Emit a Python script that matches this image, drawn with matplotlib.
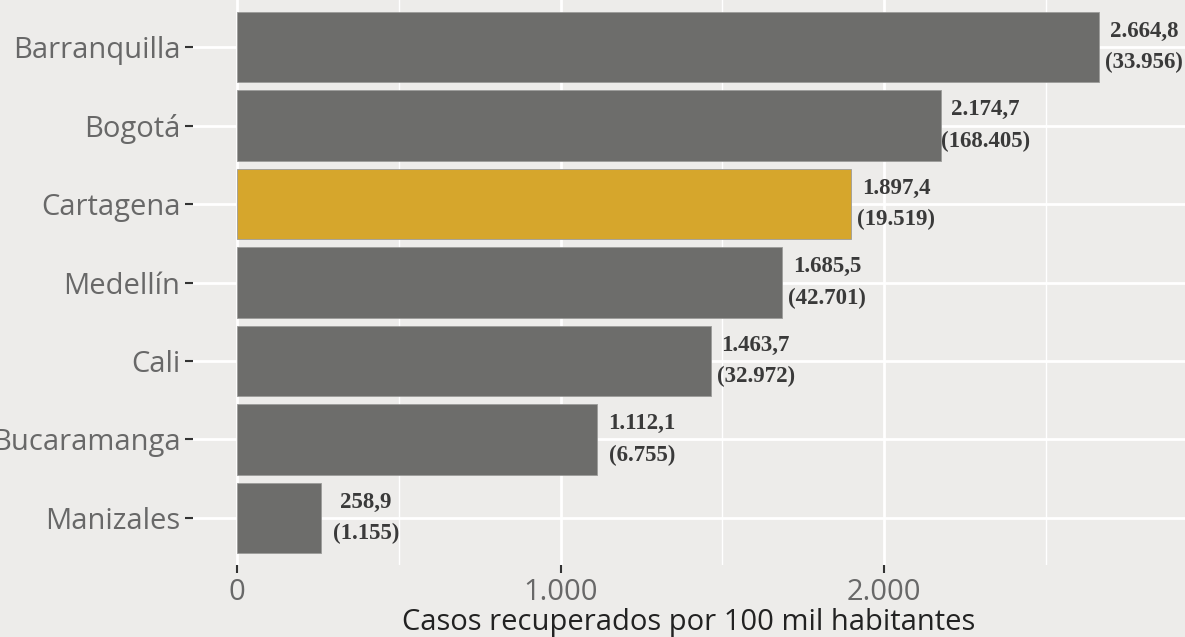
import matplotlib.pyplot as plt
from matplotlib.ticker import FuncFormatter, MultipleLocator

# Data
ciudades = ['Barranquilla', 'Bogotá', 'Cartagena', 'Medellín', 'Cali', 'Bucaramanga', 'Manizales']
tasa = [2664.8, 2174.7, 1897.4, 1685.5, 1463.7, 1112.1, 258.9]
casos = [33956, 168405, 19519, 42701, 32972, 6755, 1155]
destacada = 'Cartagena'

bg = '#EDECEA'
gris = '#6D6D6B'
dorado = '#D6A62C'


def miles(v, dec=0):
    s = f'{v:,.{dec}f}'
    return s.replace(',', 'X').replace('.', ',').replace('X', '.')


fig = plt.figure(figsize=(11.85, 6.37), dpi=100)
fig.patch.set_facecolor(bg)
ax = fig.add_axes([193 / 1185, 1 - 565 / 637, 1 - 193 / 1185, 565 / 637])
ax.set_facecolor(bg)

colores = [dorado if c == destacada else gris for c in ciudades]
y = list(range(len(ciudades)))
ax.barh(y, tasa, height=0.9, color=colores, edgecolor='#9c9c9a', linewidth=0.6, zorder=2)

for yi, t, c in zip(y, tasa, casos):
    ax.text(t + 139, yi, f'{miles(t, 1)}\n({miles(c)})', ha='center', va='center',
            multialignment='center', linespacing=1.65, fontsize=16.5,
            family='Liberation Serif', weight='bold', color='#3a3a3a', zorder=3)

ax.set_xlim(-137, 2930)
ax.set_ylim(6.6, -0.6)
ax.set_yticks(y)
ax.set_yticklabels(ciudades)
ax.xaxis.set_major_locator(MultipleLocator(1000))
ax.xaxis.set_minor_locator(MultipleLocator(500))
ax.xaxis.set_major_formatter(FuncFormatter(lambda v, p: miles(v)))

ax.grid(which='major', color='white', linewidth=2, zorder=0)
ax.grid(which='minor', axis='x', color='white', linewidth=1, zorder=0)
ax.set_axisbelow(True)
for s in ax.spines.values():
    s.set_visible(False)

ax.tick_params(axis='both', which='major', length=6, width=1.5, color='#333333',
               labelsize=21, labelcolor='#686868', pad=3)
ax.tick_params(axis='x', which='minor', length=0)
for lab in ax.get_xticklabels() + ax.get_yticklabels():
    lab.set_family('Open Sans')

ax.set_xlabel('Casos recuperados por 100 mil habitantes', fontsize=21,
              family='Open Sans', color='#222222', labelpad=1)

fig.savefig('out.png', dpi=100, facecolor=bg)
